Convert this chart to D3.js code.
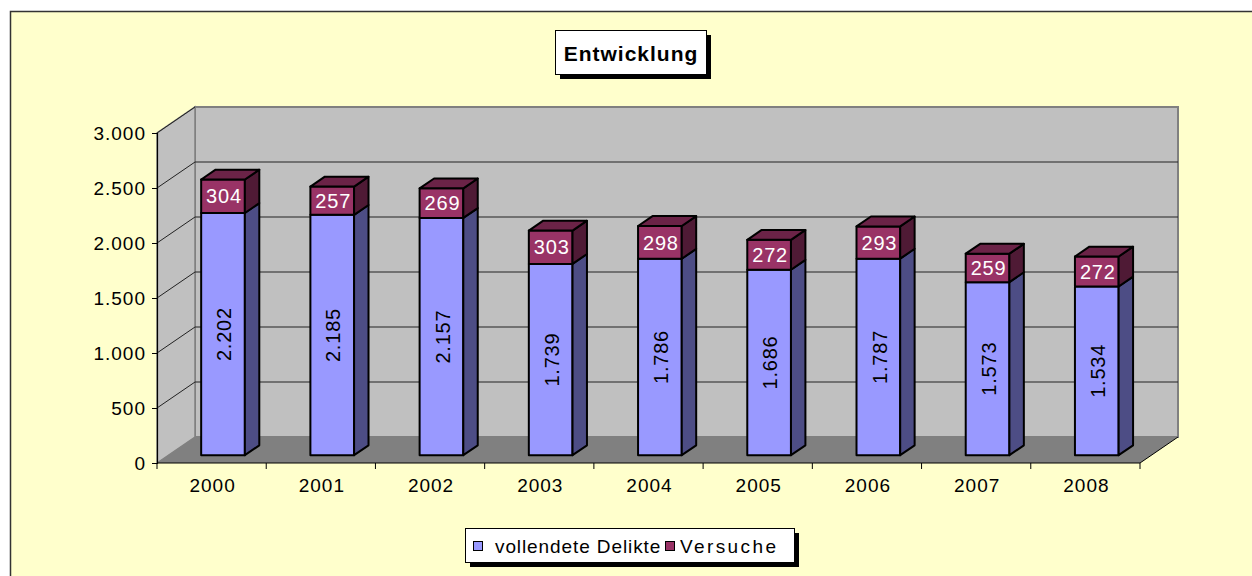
<!DOCTYPE html>
<meta charset="utf-8">
<style>
body { margin: 0; background: #fff; }
text { font-family: "Liberation Sans", Arial, sans-serif; }
.tick text { font-size: 19px; letter-spacing: 1px; fill: #000; }
</style>
<svg width="1252" height="576"></svg>
<script src="https://cdn.jsdelivr.net/npm/d3@7"></script>
<script>

var years = ["2000", "2001", "2002", "2003", "2004", "2005", "2006", "2007", "2008"];
var vollendete = [2202, 2185, 2157, 1739, 1786, 1686, 1787, 1573, 1534];
var versuche = [304, 257, 269, 303, 298, 272, 293, 259, 272];
var yTicks = [0, 500, 1000, 1500, 2000, 2500, 3000];

var svg = d3.select("svg");

var de = d3.formatLocale({decimal: ",", thousands: ".", grouping: [3], currency: ["", " €"]});
var fmt = de.format(",d");

// depth of the 3d box
var DX = 38, DY = -26;

var x = d3.scaleBand().domain(years).range([157, 1140]).padding(0);
var y = d3.scaleLinear().domain([0, 3000]).range([463, 133]);

function P(px, v, d) { return [px + d * DX, y(v) + d * DY]; }
function poly(pts) { return pts.map(function(p) { return p.join(","); }).join(" "); }

// chart area background
svg.append("rect")
    .attr("x", 10.5).attr("y", 11.5)
    .attr("width", 1260).attr("height", 600)
    .attr("fill", "#FFFFCC")
    .attr("stroke", "#333").attr("stroke-width", 1.5);

var x0 = x.range()[0], x1 = x.range()[1];

// back wall
svg.append("polygon")
    .attr("points", poly([P(x0, 0, 1), P(x1, 0, 1), P(x1, 3000, 1), P(x0, 3000, 1)]))
    .attr("fill", "#C0C0C0").attr("stroke", "#808080").attr("stroke-width", 2);

// side wall
svg.append("polygon")
    .attr("points", poly([P(x0, 0, 0), P(x0, 0, 1), P(x0, 3000, 1), P(x0, 3000, 0)]))
    .attr("fill", "#C0C0C0").attr("stroke", "#808080").attr("stroke-width", 1.5);

// floor
svg.append("polygon")
    .attr("points", poly([P(x0, 0, 0), P(x1, 0, 0), P(x1, 0, 1), P(x0, 0, 1)]))
    .attr("fill", "#808080");

// gridlines
var grid = svg.append("g");
yTicks.filter(function(t) { return t > 0; }).forEach(function(t) {
  var a = P(x0, t, 0), b = P(x0, t, 1), c = P(x1, t, 1);
  grid.append("polyline")
      .attr("points", poly(t === 3000 ? [a, b] : [a, b, c]))
      .attr("fill", "none")
      .attr("stroke", "#222").attr("stroke-width", 1);
});

// y axis
var yAxis = svg.append("g")
    .attr("transform", "translate(" + x0 + ",0)")
    .call(d3.axisLeft(y).tickValues(yTicks).tickFormat(fmt).tickSize(5).tickPadding(6));
yAxis.select(".domain").attr("stroke", "#000").attr("stroke-width", 1.2);
yAxis.selectAll(".tick line").attr("stroke", "#000");
yAxis.selectAll(".tick text").attr("dy", "0.36em");

// x axis
var xAxis = svg.append("g")
    .attr("transform", "translate(0," + y(0) + ")")
    .call(d3.axisBottom(x).tickSize(0).tickPadding(16));
xAxis.select(".domain").remove();
xAxis.selectAll(".tick text").attr("dx", "1px");
svg.append("line")
    .attr("x1", x0).attr("x2", x1).attr("y1", y(0)).attr("y2", y(0))
    .attr("stroke", "#000").attr("stroke-width", 1.2);
svg.append("line")
    .attr("x1", x1).attr("y1", y(0))
    .attr("x2", x1 + DX).attr("y2", y(0) + DY)
    .attr("stroke", "#000").attr("stroke-width", 1);
svg.selectAll(".xtick")
    .data(years.concat(["end"]))
    .enter().append("line")
    .attr("x1", function(d, i) { return x0 + i * x.bandwidth(); })
    .attr("x2", function(d, i) { return x0 + i * x.bandwidth(); })
    .attr("y1", y(0)).attr("y2", y(0) + 6)
    .attr("stroke", "#000");

// bars
var dF = 0.3, dB = 0.68;
var bw = x.bandwidth() * 0.4;
var bars = svg.append("g");

function box(g, xl, v0, v1, front, side, top) {
  var xr = xl + bw;
  g.append("polygon")
      .attr("points", poly([P(xl, v0, dF), P(xr, v0, dF), P(xr, v1, dF), P(xl, v1, dF)]))
      .attr("fill", front);
  g.append("polygon")
      .attr("points", poly([P(xr, v0, dF), P(xr, v0, dB), P(xr, v1, dB), P(xr, v1, dF)]))
      .attr("fill", side);
  if (top) {
    g.append("polygon")
        .attr("points", poly([P(xl, v1, dF), P(xr, v1, dF), P(xr, v1, dB), P(xl, v1, dB)]))
        .attr("fill", top);
  }
  g.selectAll("polygon")
      .attr("stroke", "#000").attr("stroke-width", 2).attr("stroke-linejoin", "round");
}

years.forEach(function(yr, i) {
  var xl = x(yr) + (x.bandwidth() - bw) / 2;
  var a = vollendete[i], b = versuche[i];
  var g1 = bars.append("g");
  box(g1, xl, 0, a, "#9999FF", "#4D4D85", null);
  var g2 = bars.append("g");
  box(g2, xl, a, a + b, "#993366", "#4F1A35", "#6B2347");

  var c1 = P(xl + bw / 2, a / 2, dF);
  bars.append("text")
      .attr("transform", "translate(" + (c1[0] + 1) + "," + c1[1] + ") rotate(-90)")
      .attr("text-anchor", "middle")
      .attr("dy", "0.36em")
      .style("font-size", "20px")
      .style("letter-spacing", "0.8px")
      .attr("fill", "#000")
      .text(fmt(a));

  var c2 = P(xl + bw / 2, a + b / 2, dF);
  bars.append("text")
      .attr("x", c2[0] + 1).attr("y", c2[1])
      .attr("text-anchor", "middle")
      .attr("dy", "0.36em")
      .style("font-size", "20px")
      .style("letter-spacing", "0.8px")
      .attr("fill", "#fff")
      .text(b);
});

// title
svg.append("rect").attr("x", 560).attr("y", 35).attr("width", 151).attr("height", 44).attr("fill", "#000");
svg.append("rect").attr("x", 555.5).attr("y", 30.5).attr("width", 151).attr("height", 44)
    .attr("fill", "#fff").attr("stroke", "#000").attr("stroke-width", 1);
svg.append("text")
    .attr("x", 631).attr("y", 53)
    .attr("text-anchor", "middle").attr("dy", "0.36em")
    .style("font-size", "21px").style("font-weight", "bold").style("letter-spacing", "1px")
    .text("Entwicklung");

// legend
var lg = svg.append("g");
lg.append("rect").attr("x", 470).attr("y", 533).attr("width", 329).attr("height", 34).attr("fill", "#000");
lg.append("rect").attr("x", 465.5).attr("y", 528.5).attr("width", 329).attr("height", 34)
    .attr("fill", "#fff").attr("stroke", "#000").attr("stroke-width", 1);
var items = [["vollendete Delikte", "#9999FF", 473, 495, 0.9], ["Versuche", "#993366", 665, 680, 2.4]];
items.forEach(function(it) {
  lg.append("rect").attr("x", it[2] + 0.5).attr("y", 541.5).attr("width", 9).attr("height", 9)
      .attr("fill", it[1]).attr("stroke", "#000").attr("stroke-width", 1);
  lg.append("text")
      .attr("x", it[3]).attr("y", 546).attr("dy", "0.36em")
      .style("font-size", "19px").style("letter-spacing", it[4] + "px")
      .text(it[0]);
});

</script>
